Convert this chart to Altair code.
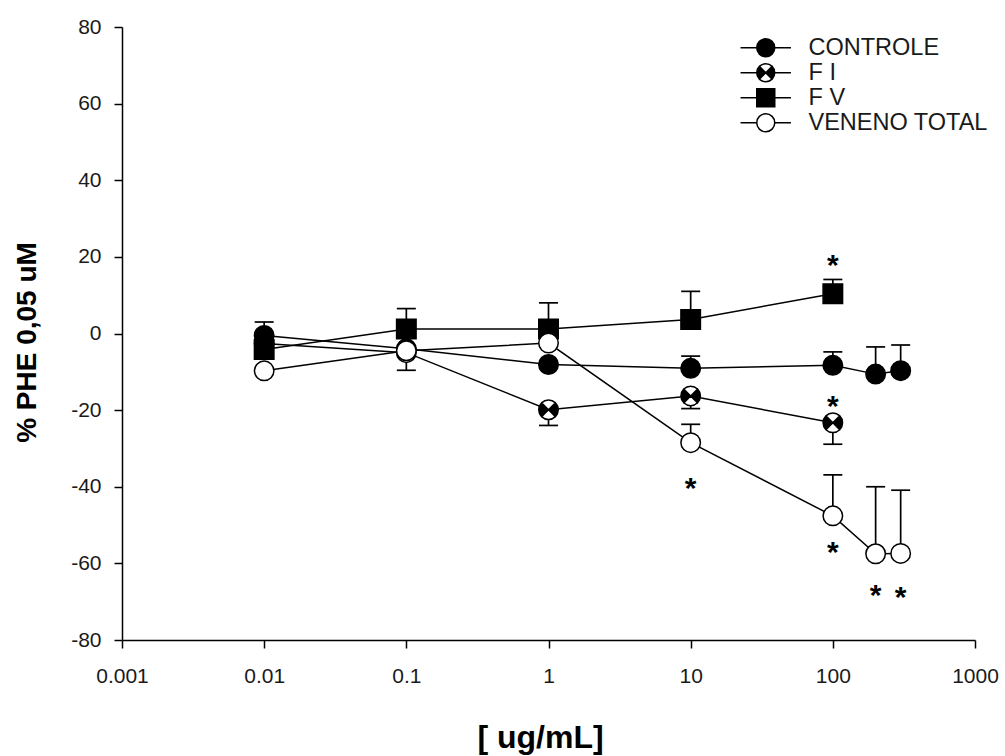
import altair as alt
import pandas as pd

# ---- data ----
series_names = ["CONTROLE", "F I", "F V", "VENENO TOTAL"]

conc_long = [0.01, 0.1, 1, 10, 100, 200, 300]
conc_short = [0.01, 0.1, 1, 10, 100]

controle = [-0.5, -4.0, -8.1, -9.1, -8.3, -10.6, -9.7]
controle_err = [3.5, None, None, 3.2, 3.5, 7.1, 6.7]      # drawn upward

f1 = [-2.6, -5.0, -19.9, -16.3, -23.3]
f1_err = [None, 4.6, 4.1, 3.3, 5.6]                         # drawn downward

f5 = [-4.2, 1.2, 1.2, 3.65, 10.4]
f5_err = [None, 5.3, 6.8, 7.35, 3.7]                        # drawn upward

veneno = [-9.75, -4.5, -2.5, -28.5, -47.6, -57.5, -57.4]
veneno_err = [None, None, None, 4.8, 10.7, 17.5, 16.5]     # drawn upward

star_conc = [10, 100, 100, 100, 200, 300]
star_y = [-38.4, 19.6, -17.0, -55.2, -66.5, -66.9]

x_ticks = [0.001, 0.01, 0.1, 1, 10, 100, 1000]
y_ticks = [-80, -60, -40, -20, 0, 20, 40, 60, 80]

# ---- tables ----
rows = []
for name, xs_, ys_, es, d in [
    ("CONTROLE", conc_long, controle, controle_err, 1),
    ("F I", conc_short, f1, f1_err, -1),
    ("F V", conc_short, f5, f5_err, 1),
    ("VENENO TOTAL", conc_long, veneno, veneno_err, 1),
]:
    for x, y, e in zip(xs_, ys_, es):
        rows.append({"series": name, "conc": x, "value": y,
                     "err_end": (y + d * e) if e is not None else None})
df = pd.DataFrame(rows)
df_err = df.dropna(subset=["err_end"])
df_star = pd.DataFrame({"conc": star_conc, "sy": star_y})

# ---- shapes ----
circle_p = "M1,0A1,1 0 1,1 -1,0A1,1 0 1,1 1,0Z"
square_p = "M-1,-1H1V1H-1Z"
bowtie_p = ("M0,0L-0.707,-0.707A1,1 0 0,0 -0.707,0.707Z"
            "M0,0L0.707,-0.707A1,1 0 0,1 0.707,0.707Z"
            "M-0.707,-0.707A1,1 0 0,1 0.707,-0.707A1,1 0 0,0 -0.707,-0.707"
            "M-0.707,0.707A1,1 0 0,0 0.707,0.707A1,1 0 0,1 -0.707,0.707")
stub = "M-2.8,0H-1M1,0H2.8"

plot_shapes = [circle_p, bowtie_p, square_p, circle_p]
legend_shapes = [stub + s for s in plot_shapes]
fills = ["black", "black", "black", "white"]
strokes = ["black", "black", "black", "black"]

FONT = "Liberation Sans"
TXT = "#1a1a1a"

x_axis = alt.Axis(values=x_ticks, format="~g", title="[ ug/mL]", titleFontSize=32,
                  titleFontWeight="bold", titleColor="black", titleX=418, titleY=97,
                  titleAlign="center", titleBaseline="middle", labelFontSize=21,
                  labelColor=TXT, labelPadding=17, labelFlush=False, labelOverlap=False,
                  tickSize=8, tickWidth=1.5, tickColor="black", domainColor="black",
                  domainWidth=1.5, grid=False)
y_axis = alt.Axis(values=y_ticks, labelExpr="datum.value + ''", title="% PHE 0,05 uM",
                  titleFontSize=28, titleFontWeight="bold", titleColor="black",
                  titleX=-95, titleY=315, titleAlign="center", titleBaseline="middle",
                  labelFontSize=21, labelColor=TXT, labelPadding=13, tickSize=8,
                  tickWidth=1.5, tickColor="black", domainColor="black", domainWidth=1.5,
                  grid=False)

xs = alt.Scale(type="log", domain=[0.001, 1000])
ys = alt.Scale(domain=[-80, 80])

X = alt.X("conc:Q", scale=xs, axis=x_axis)

lines = alt.Chart(df).mark_line(color="black", strokeWidth=1.5).encode(
    x=X, y=alt.Y("value:Q", scale=ys, axis=y_axis), detail="series:N")

err_rules = alt.Chart(df_err).mark_rule(color="black", strokeWidth=1.7).encode(
    x=X, y=alt.Y("value:Q", scale=ys, axis=y_axis), y2="err_end:Q")

err_caps = alt.Chart(df_err).mark_tick(color="black", orient="horizontal", size=19,
                                       thickness=1.7, opacity=1).encode(
    x=X, y=alt.Y("err_end:Q", scale=ys, axis=y_axis))

bg = alt.Chart(df).transform_filter(alt.datum.series == "F I").mark_point(
    shape="circle", size=400, filled=True, color="white", opacity=1).encode(
    x=X, y=alt.Y("value:Q", scale=ys, axis=y_axis))

points = alt.Chart(df).mark_point(size=380, stroke="black", strokeWidth=1.5,
                                  opacity=1, fillOpacity=1).encode(
    x=X, y=alt.Y("value:Q", scale=ys, axis=y_axis),
    shape=alt.Shape("series:N", scale=alt.Scale(domain=series_names, range=plot_shapes),
                    legend=None),
    fill=alt.Fill("series:N", scale=alt.Scale(domain=series_names, range=fills),
                  legend=None))

leg = alt.Legend(orient="none", legendX=632, legendY=9, title=None, labelFont=FONT,
                 labelFontSize=23.5, labelColor=TXT, labelLimit=400, symbolSize=324,
                 symbolStrokeWidth=1.5, symbolStrokeColor="black", symbolOpacity=1,
                 labelOffset=31, rowPadding=0, padding=0)

legend_layer = alt.Chart(df).mark_point(size=380, strokeWidth=1.5, opacity=0).encode(
    x=X, y=alt.Y("value:Q", scale=ys, axis=y_axis),
    shape=alt.Shape("series:N", scale=alt.Scale(domain=series_names, range=legend_shapes),
                    legend=leg),
    fill=alt.Fill("series:N", scale=alt.Scale(domain=series_names, range=fills),
                  legend=leg),
    stroke=alt.Stroke("series:N", scale=alt.Scale(domain=series_names, range=strokes),
                      legend=leg))

stars = alt.Chart(df_star).mark_text(text="*", fontSize=30, fontWeight="bold",
                                     color="black", dy=8, font=FONT).encode(
    x=X, y=alt.Y("sy:Q", scale=ys, axis=y_axis))

chart = alt.layer(lines, err_rules, err_caps, bg, points, stars, legend_layer).resolve_scale(
    shape="independent", fill="independent", stroke="independent"
).resolve_legend(shape="independent", fill="independent", stroke="independent").properties(
    width=853, height=613,
    autosize=alt.AutoSizeParams(type="none"),
    padding={"left": 122, "top": 27, "right": 30, "bottom": 116},
).configure(font=FONT).configure_view(stroke=None)

chart.save("out.html", embed_options={"renderer": "svg", "actions": False})
